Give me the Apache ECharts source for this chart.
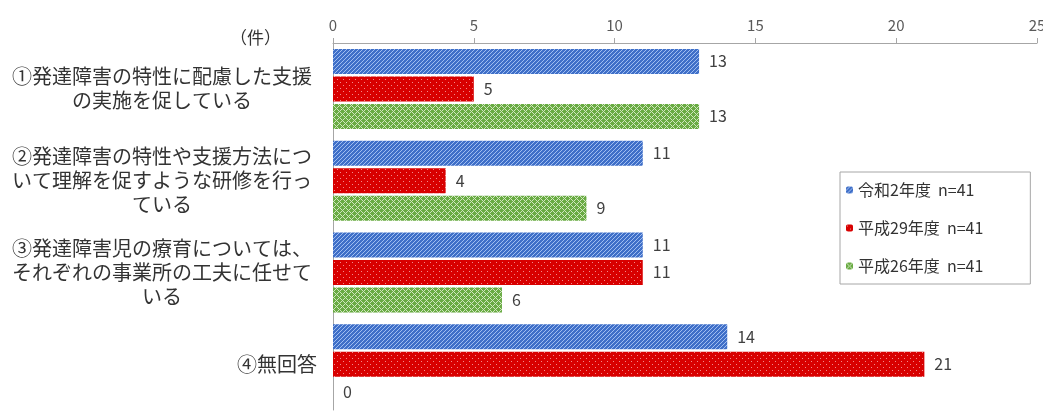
<!DOCTYPE html>
<html><head><meta charset="utf-8">
<script src="https://cdn.jsdelivr.net/npm/echarts@6/dist/echarts.min.js"></script>
<style>html,body{margin:0;padding:0;background:#fff}#c{width:1043px;height:414px}</style>
</head><body><div id="c"></div>
<script>
const categories = [
  '①発達障害の特性に配慮した支援\nの実施を促している',
  '②発達障害の特性や支援方法につ\nいて理解を促すような研修を行っ\nている',
  '③発達障害児の療育については、\nそれぞれの事業所の工夫に任せて\nいる',
  '④無回答'
];
const seriesNames = ['令和2年度  n=41', '平成29年度  n=41', '平成26年度  n=41'];
const r2 = [13, 11, 11, 14];
const h29 = [5, 4, 11, 21];
const h26 = [13, 9, 6, 0];
const xTicks = [0, 5, 10, 15, 20, 25];

function tile(size, base, light, fn) {
  const c = document.createElement('canvas');
  c.width = size; c.height = size;
  const g = c.getContext('2d');
  g.fillStyle = base; g.fillRect(0, 0, size, size);
  g.fillStyle = light;
  for (let y = 0; y < size; y++) for (let x = 0; x < size; x++) if (fn(x, y)) g.fillRect(x, y, 1, 1);
  return c;
}
const blueTile = tile(4, '#3f6fc8', '#9fbdf0', (x, y) => (x + y) % 4 === 3);
const redTile = tile(6, '#d80000', '#f08a8a', (x, y) => (x === 1 && y === 1) || (x === 4 && y === 4));
const greenTile = tile(6, '#69ab43', '#cfe6bd', (x, y) => (x + y) % 6 === 0 || ((x - y) % 6 + 6) % 6 === 0);
const fills = [blueTile, redTile, greenTile];
const dataSets = [r2, h29, h26];

const font = '"Noto Sans CJK JP", "Noto Sans", sans-serif';
const chart = echarts.init(document.getElementById('c'), null, {renderer: 'canvas'});
chart.setOption({
  animation: false,
  backgroundColor: '#fff',
  textStyle: {fontFamily: font},
  grid: {left: 333, right: 6, top: 43, bottom: 4, containLabel: false, outerBoundsMode: 'none'},
  graphic: [{type: 'text', left: 230, top: 29, style: {text: '（件）', font: '17px ' + font, fill: '#333'}}],
  legend: {
    orient: 'vertical', left: 840, top: 172,
    itemWidth: 7, itemHeight: 7, itemGap: 22,
    padding: [10, 47, 10, 6],
    borderColor: '#a6a6a6', borderWidth: 1, backgroundColor: '#fff',
    textStyle: {fontSize: 16, color: '#333', fontFamily: font},
    data: seriesNames
  },
  xAxis: {
    type: 'value', position: 'top', min: xTicks[0], max: xTicks[xTicks.length - 1], interval: 5,
    axisLine: {show: true, lineStyle: {color: '#a6a6a6'}},
    axisTick: {show: true, length: 5, lineStyle: {color: '#a6a6a6'}},
    splitLine: {show: false},
    axisLabel: {fontSize: 15, color: '#595959', margin: 10, fontFamily: font}
  },
  yAxis: {
    type: 'category', inverse: true,
    data: categories.map((c, i) => i === 3 ? {value: c, textStyle: {align: 'left', padding: [0, 0, 0, 75]}} : c),
    axisLine: {show: true, lineStyle: {color: '#a6a6a6'}},
    axisTick: {show: false},
    axisLabel: {align: 'center', margin: 171, fontSize: 20, lineHeight: 24, color: '#333', fontFamily: font}
  },
  series: dataSets.map((d, i) => ({
    name: seriesNames[i], type: 'bar', data: d,
    barWidth: 25, barGap: '10%',
    itemStyle: {color: {image: fills[i], repeat: 'repeat'}},
    label: {show: true, position: 'right', distance: 10, fontSize: 16, color: '#404040', fontFamily: font}
  }))
});
</script></body></html>
